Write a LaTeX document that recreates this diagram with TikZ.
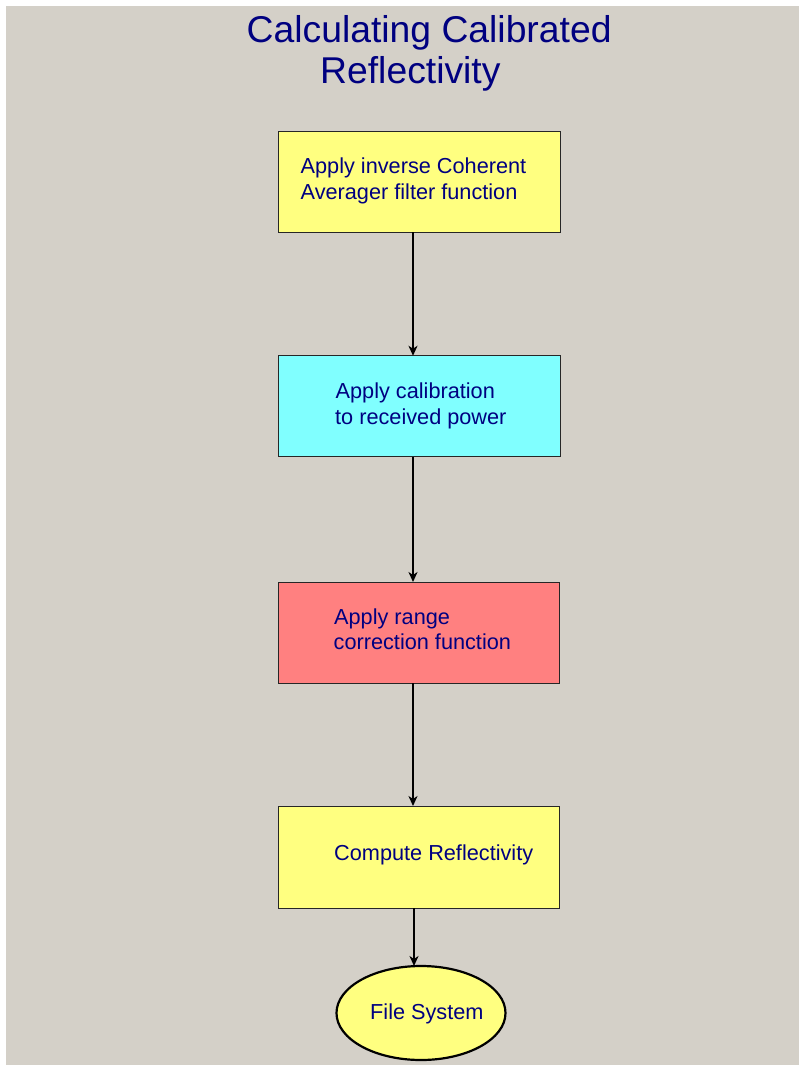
\documentclass[tikz,border=0pt]{standalone}
\usepackage{fontspec}
\setmainfont{Liberation Sans}
\usetikzlibrary{arrows.meta,shapes.geometric}
\definecolor{bg}{HTML}{D4D0C8}
\definecolor{navy}{HTML}{000080}
\definecolor{boxyellow}{HTML}{FFFF80}
\definecolor{boxcyan}{HTML}{80FFFF}
\definecolor{boxred}{HTML}{FF8080}
\tikzset{
  stepbox/.style={draw=black!85, line width=1pt, minimum width=282pt, minimum height=101pt, inner sep=0pt, outer sep=0pt},
  store/.style={ellipse, draw=black, line width=2.2pt, fill=boxyellow, minimum width=169pt, minimum height=94pt, inner sep=0pt, outer sep=0pt},
  lbl/.style={anchor=base west, inner sep=0pt, text=navy, font=\fontsize{21.7}{26}\selectfont},
  ttl/.style={anchor=base west, inner sep=0pt, text=navy, font=\fontsize{37.3}{42}\selectfont},
  arr/.style={line width=2pt, -{Stealth[length=10pt,width=9pt,inset=3pt]}}
}
\begin{document}
\begin{tikzpicture}[x=1pt,y=-1pt]
\useasboundingbox (0,0) rectangle (799,1065);
\fill[white] (0,0) rectangle (799,1065);
\fill[bg] (6,6) rectangle (799,1065);

% title
\node[ttl] (title1) at (246.5,43) {Calculating Calibrated};
\node[ttl] (title2) at (320,84) {Reflectivity};

% boxes
\node[stepbox, fill=boxyellow] (b1) at (419.25,181.75) {};
\node[stepbox, fill=boxcyan]   (b2) at (419.25,406.25) {};
\node[stepbox, fill=boxred, minimum width=281pt] (b3) at (418.5,632.5) {};
\node[stepbox, fill=boxyellow, minimum width=281pt, minimum height=102pt] (b4) at (418.5,857) {};
\node[store] (fs) at (421,1013) {};

% texts
\node[lbl] (t1a) at (300.5,173) {Apply inverse Coherent};
\node[lbl] (t1b) at (300.5,199) {Averager filter function};
\node[lbl] (t2a) at (335.5,398.5) {Apply calibration};
\node[lbl] (t2b) at (335,424) {to received power};
\node[lbl] (t3a) at (334,624) {Apply range};
\node[lbl] (t3b) at (333.5,649) {correction function};
\node[lbl] (t4)  at (334,860) {Compute Reflectivity};
\node[lbl] (t5)  at (370,1019) {File System};

% connectors
\coordinate (xa) at (413,0);
\coordinate (xb) at (414,0);
\draw[arr] (b1.south -| xa) -- (b2.north -| xa);
\draw[arr] (b2.south -| xa) -- (b3.north -| xa);
\draw[arr] (b3.south -| xa) -- (b4.north -| xa);
\draw[arr] (b4.south -| xb) -- (fs.north -| xb);
\end{tikzpicture}
\end{document}
